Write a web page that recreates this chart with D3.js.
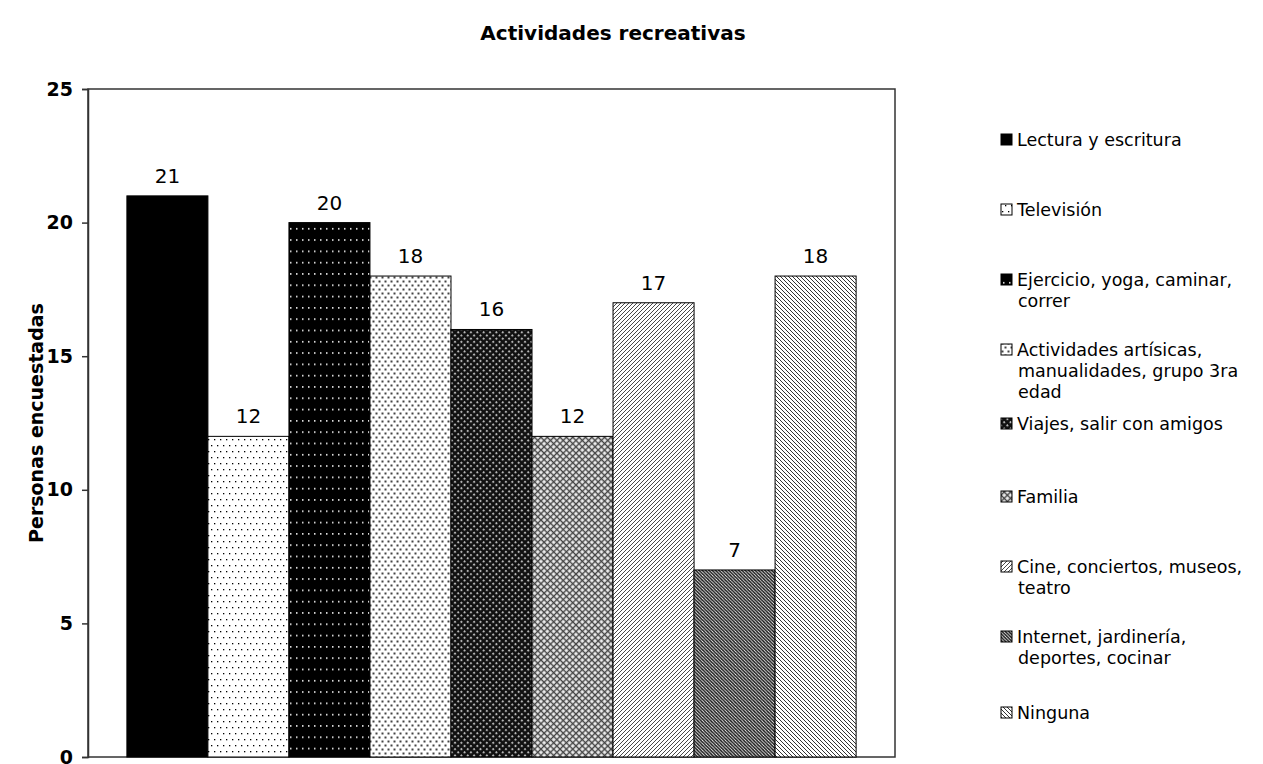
<!DOCTYPE html>
<html><head><meta charset="utf-8">
<script src="https://cdn.jsdelivr.net/npm/d3@7"></script>
<style>body{margin:0;background:#fff}svg{display:block}</style>
</head><body>
<svg id="chart" width="1263" height="764"></svg>
<script>
const title = "Actividades recreativas";
const yLabel = "Personas encuestadas";
const categories = ["Lectura y escritura","Televisión","Ejercicio, yoga, caminar, correr","Actividades artísicas, manualidades, grupo 3ra edad","Viajes, salir con amigos","Familia","Cine, conciertos, museos, teatro","Internet, jardinería, deportes, cocinar","Ninguna"];
const values = [21,12,20,18,16,12,17,7,18];
const legendLines = [["Lectura y escritura"],["Televisión"],["Ejercicio, yoga, caminar,","correr"],["Actividades artísicas,","manualidades, grupo 3ra","edad"],["Viajes, salir con amigos"],["Familia"],["Cine, conciertos, museos,","teatro"],["Internet, jardinería,","deportes, cocinar"],["Ninguna"]];
const yTicks = [0,5,10,15,20,25];

const FONT = "DejaVu Sans, Verdana, sans-serif";
const svg = d3.select("#chart");
const defs = svg.append("defs");
const plot = {left:88, right:895, top:89, bottom:757};

function pat(id, w, h, bg, draw, tr){
  const p = defs.append("pattern").attr("id", id).attr("patternUnits","userSpaceOnUse").attr("width", w).attr("height", h);
  if (tr) p.attr("patternTransform", tr);
  p.append("rect").attr("width", w).attr("height", h).attr("fill", bg);
  draw(p);
}
pat("p0", 4, 4, "#000", p=>{});
pat("p1", 6, 12, "#fff", p=>{
  p.append("rect").attr("x",1).attr("y",1).attr("width",1.3).attr("height",1.3).attr("fill","#000");
  p.append("rect").attr("x",4).attr("y",7).attr("width",1.3).attr("height",1.3).attr("fill","#000");
});
pat("p2", 6, 11.3, "#000", p=>{
  p.append("rect").attr("x",2).attr("y",2).attr("width",1.5).attr("height",1.5).attr("fill","#fff");
});
pat("p3", 6, 8, "#fff", p=>{
  p.append("rect").attr("x",0.5).attr("y",0.5).attr("width",2).attr("height",2).attr("fill","#444");
  p.append("rect").attr("x",3.5).attr("y",4.5).attr("width",2).attr("height",2).attr("fill","#444");
});
pat("p4", 4.5, 4.5, "#111", p=>{
  p.append("rect").attr("x",0).attr("y",0).attr("width",2).attr("height",2).attr("fill","#999");
  p.append("rect").attr("x",0.5).attr("y",0.5).attr("width",1).attr("height",1).attr("fill","#eee");
}, "rotate(45)");
pat("p5", 4.5, 4.5, "#eee", p=>{
  p.append("rect").attr("x",0).attr("y",2.5).attr("width",4.5).attr("height",1.4).attr("fill","#444");
  p.append("rect").attr("x",2.5).attr("y",0).attr("width",1.4).attr("height",4.5).attr("fill","#444");
}, "rotate(45)");
pat("p6", 4, 4, "#fff", p=>{
  p.append("path").attr("d","M-1,5 L5,-1 M-1,1 L1,-1 M3,5 L5,3").attr("stroke","#333").attr("stroke-width",0.9);
});
pat("p7", 3.3, 3.3, "#fff", p=>{
  p.append("path").attr("d","M-1,-1 L4.3,4.3 M-1,2.3 L1,4.3 M2.3,-1 L4.3,1").attr("stroke","#1a1a1a").attr("stroke-width",1.6);
});
pat("p8", 4, 4, "#fff", p=>{
  p.append("path").attr("d","M-1,-1 L5,5 M-1,3 L1,5 M3,-1 L5,1").attr("stroke","#333").attr("stroke-width",1);
});

const y = d3.scaleLinear().domain([0,25]).range([plot.bottom, plot.top]);
const x = d3.scaleBand().domain(categories).range([plot.left, plot.right]).paddingInner(0).paddingOuter(0.48);

// plot frame
svg.append("rect").attr("x",plot.left).attr("y",plot.top).attr("width",plot.right-plot.left).attr("height",plot.bottom-plot.top)
  .attr("fill","#fff").attr("stroke","#333").attr("stroke-width",1.5);

// bars
svg.append("g").selectAll("rect").data(values).join("rect")
  .attr("x",(d,i)=>x(categories[i]))
  .attr("y",d=>y(d))
  .attr("width",x.bandwidth())
  .attr("height",d=>y(0)-y(d))
  .attr("fill",(d,i)=>`url(#p${i})`)
  .attr("stroke","#000").attr("stroke-width",1);

// value labels
svg.append("g").selectAll("text").data(values).join("text")
  .attr("x",(d,i)=>x(categories[i])+x.bandwidth()/2)
  .attr("y",d=>y(d)-13)
  .attr("text-anchor","middle")
  .attr("font-family",FONT).attr("font-size",20)
  .text(d=>d);

// y axis
const yAxis = d3.axisLeft(y).tickValues(yTicks).tickSize(6).tickPadding(9);
const ga = svg.append("g").attr("transform",`translate(${plot.left},0)`).call(yAxis);
ga.select(".domain").attr("stroke","#333").attr("stroke-width",1.5);
ga.selectAll(".tick line").attr("stroke","#333").attr("stroke-width",1.5);
ga.selectAll(".tick text").attr("font-family",FONT).attr("font-size",19).attr("font-weight","bold").attr("fill","#000");

// y label
svg.append("text").attr("transform",`translate(43,${(plot.top+plot.bottom)/2}) rotate(-90)`)
  .attr("text-anchor","middle").attr("font-family",FONT).attr("font-size",19).attr("font-weight","bold")
  .text(yLabel);

// title
svg.append("text").attr("x",613).attr("y",40).attr("text-anchor","middle")
  .attr("font-family",FONT).attr("font-size",20).attr("font-weight","bold").text(title);

// legend
const legY = [140,210,280,350,424,497,567,637,713];
const lg = svg.append("g").selectAll("g").data(legendLines).join("g")
  .attr("transform",(d,i)=>`translate(1001,${legY[i]})`);
lg.append("rect").attr("x",0).attr("y",-6).attr("width",11).attr("height",11)
  .attr("fill",(d,i)=>`url(#p${i})`).attr("stroke","#000").attr("stroke-width",1);
lg.each(function(lines){
  const t = d3.select(this).append("text").attr("font-family",FONT).attr("font-size",17.5);
  lines.forEach((s,j)=>{
    t.append("tspan").attr("x", j===0?16:17).attr("y", j*21+6).text(s);
  });
});
</script>
</body></html>
